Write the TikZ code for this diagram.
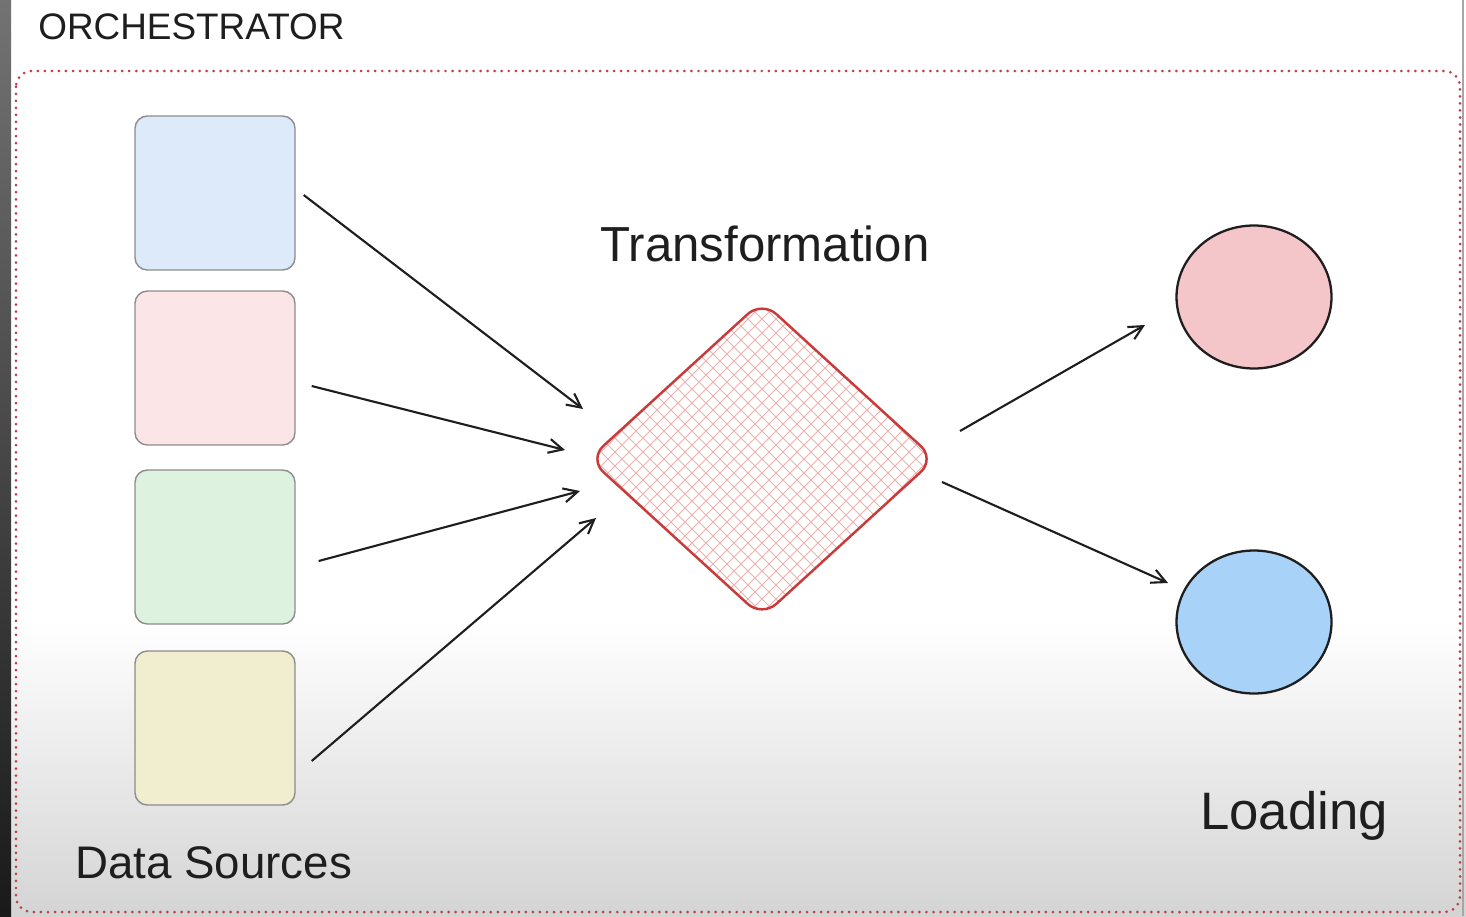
\documentclass[tikz,border=0pt]{standalone}
\usepackage{fontspec}
\setmainfont{Liberation Sans}
\usetikzlibrary{shapes.geometric,arrows.meta,calc}
\definecolor{ink}{HTML}{1E1E1E}
\definecolor{boxgray}{HTML}{8C8C8C}
\definecolor{dotred}{HTML}{B8404C}
\definecolor{bluesrc}{HTML}{DCEAFA}
\definecolor{pinksrc}{HTML}{FBE5E7}
\definecolor{greensrc}{HTML}{DDF3DF}
\definecolor{yellowsrc}{HTML}{F1EDCF}
\definecolor{transred}{HTML}{C93A3A}
\definecolor{hatchred}{HTML}{F0B0B0}
\definecolor{pinksink}{HTML}{F5C6C9}
\definecolor{bluesink}{HTML}{A8D2F8}
\definecolor{bggray}{HTML}{D4D4D4}
\begin{document}
\begin{tikzpicture}[x=0.02cm,y=-0.02cm,
srcbox/.style={rectangle, minimum width=3.2cm, minimum height=3.08cm, rounded corners=7pt, draw=boxgray, line width=0.8pt, inner sep=0},
sink/.style={ellipse, minimum width=3.1cm, minimum height=2.86cm, draw=ink, line width=1.3pt, inner sep=0},
hatch/.style={draw=hatchred, line width=0.5pt},
flow/.style={draw=ink, line width=1.2pt, -{Straight Barb[length=8pt,width=8pt]}},
handtext/.style={text=ink, inner sep=0}]
\useasboundingbox (0,0) rectangle (1466,916);
\fill[white] (0,0) rectangle (1466,916);
\shade[top color=white, bottom color=bggray] (0,620) rectangle (1466,916);
\shade[top color=black!55, bottom color=black!90] (0,0) rectangle (11,916);
\draw[black!35, line width=1pt] (1463,0) -- (1463,916);
\draw[dotred, line width=1.7pt, line cap=round, dash pattern=on 0pt off 4pt, rounded corners=9pt] (16,71) rectangle (1460,912);
\node[handtext, anchor=west, font=\fontsize{21}{25}\selectfont] (orch) at (38,27) {ORCHESTRATOR};
\node[srcbox, fill=bluesrc] (src1) at (215,193){};
\node[srcbox, fill=pinksrc] (src2) at (215,368){};
\node[srcbox, fill=greensrc] (src3) at (215,547){};
\node[srcbox, fill=yellowsrc] (src4) at (215,728){};
\node[handtext, anchor=west, font=\fontsize{26}{30}\selectfont] (srclabel) at (75,863) {Data Sources};
\node[diamond, minimum width=6.94cm, minimum height=6.34cm, inner sep=0, rounded corners=11pt, draw=transred, line width=1.4pt, fill=white,
path picture={
\foreach \k in {-12,...,12} {
\draw[hatch] ($(path picture bounding box.center)+(\k*14-170,-170)$) -- ++(340,340);
\draw[hatch] ($(path picture bounding box.center)+(\k*14-170,170)$) -- ++(340,-340);
}
}] (trans) at (762,459){};
\node[handtext, font=\fontsize{28}{32}\selectfont] (translabel) at (765,244) {Transformation};
\node[sink, fill=pinksink] (out1) at (1254,297){};
\node[sink, fill=bluesink] (out2) at (1254,622){};
\node[handtext, anchor=west, font=\fontsize{30}{34}\selectfont] (outlabel) at (1200,816) {Loading};
\draw[flow] ($(src1.east)+(8,2)$) -- ($(trans.center)+(-179,-50)$);
\draw[flow] ($(src2.east)+(16,18)$) -- ($(trans.center)+(-197,-9)$);
\draw[flow] ($(src3.east)+(23,14)$) -- ($(trans.center)+(-182,32)$);
\draw[flow] ($(src4.east)+(16,33)$) -- ($(trans.center)+(-166,59)$);
\draw[flow] ($(trans.center)+(198,-28)$) -- ($(out1.center)+(-109,28)$);
\draw[flow] ($(trans.center)+(180,23)$) -- ($(out2.center)+(-86,-39)$);
\end{tikzpicture}
\end{document}
